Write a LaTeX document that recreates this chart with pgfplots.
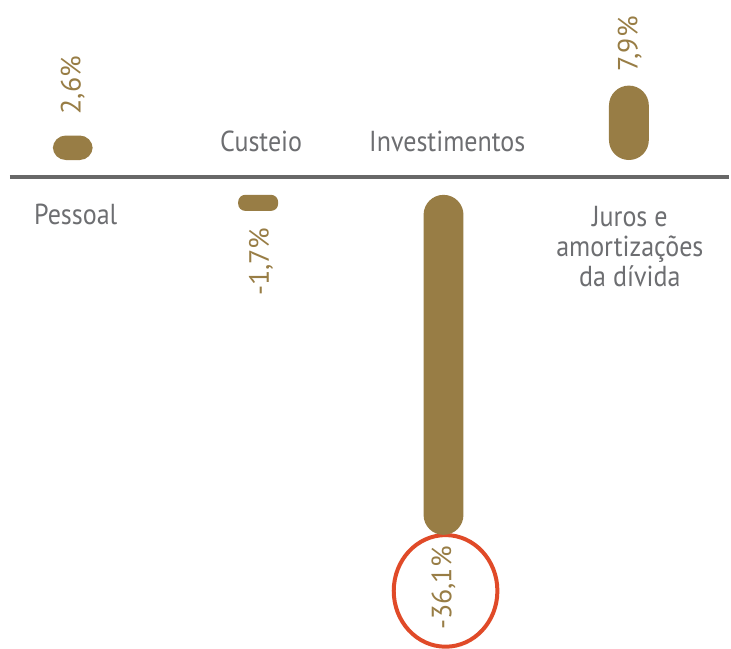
\documentclass[border=0pt]{standalone}
\usepackage{pgfplots}
\pgfplotsset{compat=1.18}
\usepackage{fontspec}
\setmainfont{PT Sans}[FakeStretch=0.9]
\newfontfamily\valfont{PT Sans}
\definecolor{barc}{HTML}{987D45}
\definecolor{txt}{HTML}{6D6E71}
\definecolor{basec}{HTML}{686868}
\definecolor{circ}{HTML}{E04A28}
\pgfplotsset{
  frame/.style={scale only axis, width=731pt, height=651pt,
    xmin=-0.3925, xmax=3.5376, ymin=-50.05, ymax=18.84,
    axis line style={draw=none}, ticks=none, clip=false,
    at={(0,0)}, anchor=south west},
  pill/.style={frame, ybar stacked, bar width=40pt},
  val/.style={fill=barc, draw=none},
}
\tikzset{vlab/.style={rotate=90, text=barc, inner sep=0pt, font=\valfont\fontsize{28}{34}\selectfont}}
\begin{document}
\begin{tikzpicture}[font=\fontsize{29}{34}\selectfont]
\begin{axis}[frame, axis background/.style={fill=white}]
\addplot[draw=basec, line width=4pt] coordinates {(-0.339,0) (3.54,0)};
\node[text=txt, anchor=base] at (axis cs:0.016,-4.97) {Pessoal};
\node[text=txt, anchor=base] at (axis cs:1.016,2.75) {Custeio};
\node[text=txt, anchor=base] at (axis cs:2.02,2.75) {Investimentos};
\node[text=txt, anchor=base] at (axis cs:3.005,-5.18) {Juros e};
\node[text=txt, anchor=base] at (axis cs:3.005,-8.36) {amortizações};
\node[text=txt, anchor=base] at (axis cs:3.005,-11.53) {da dívida};
\node[vlab, anchor=west] at (axis cs:0,6.67) {2,6\%};
\node[vlab, anchor=east] at (axis cs:1.016,-5.29) {-1,7\%};
\node[vlab, anchor=east] at (axis cs:2.0,-39.15) {-36,1\%};
\node[vlab, anchor=west] at (axis cs:3.005,11.22) {7,9\%};
\draw[circ, line width=4pt] (axis cs:2.011,-43.9) ellipse [x radius=52pt, y radius=56pt];
\end{axis}
% Pessoal
\begin{axis}[pill]
\addplot[draw=none, fill=none] coordinates {(0,1.85)};
\addplot[val, rounded corners=13pt] coordinates {(0,2.6)};
\end{axis}
% Custeio
\begin{axis}[pill]
\addplot[draw=none, fill=none] coordinates {(1,-1.85)};
\addplot[val, rounded corners=7pt] coordinates {(1,-1.7)};
\end{axis}
% Investimentos
\begin{axis}[pill]
\addplot[draw=none, fill=none] coordinates {(2,-1.85)};
\addplot[val, rounded corners=20pt] coordinates {(2,-36.1)};
\end{axis}
% Juros
\begin{axis}[pill]
\addplot[draw=none, fill=none] coordinates {(3,1.85)};
\addplot[val, rounded corners=20pt] coordinates {(3,7.9)};
\end{axis}
\end{tikzpicture}
\end{document}
